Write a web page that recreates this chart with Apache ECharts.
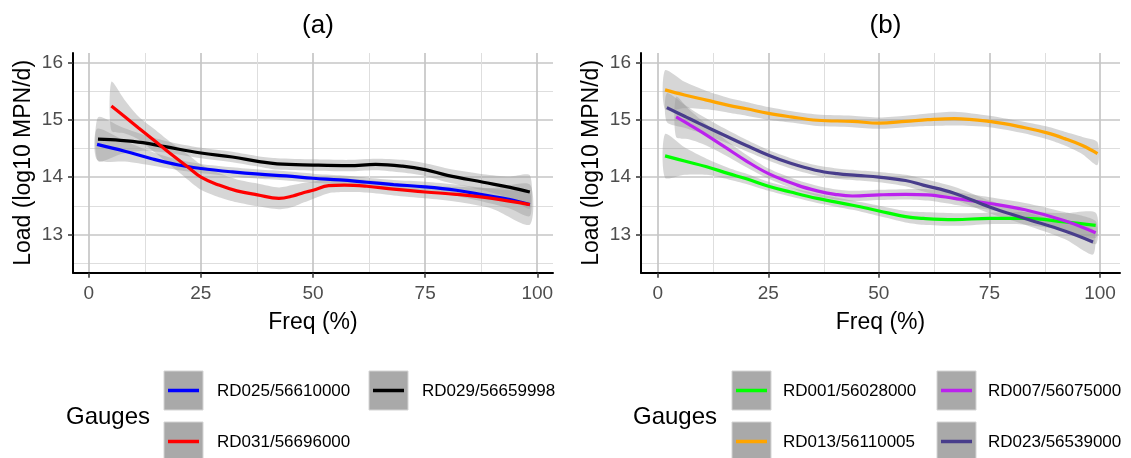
<!DOCTYPE html>
<html>
<head>
<meta charset="utf-8">
<script src="https://cdn.jsdelivr.net/npm/echarts@6/dist/echarts.min.js"></script>
<style>html,body{margin:0;padding:0;background:#fff;}#c{width:1131px;height:458px;}#err{position:absolute;left:0;top:0;font:11px monospace;color:#c00;white-space:pre;}</style>
</head>
<body>
<div id="c"></div>
<div id="err"></div>
<script>
// ---------- tick labels ----------
const xTicks = [0, 25, 50, 75, 100];
const xMinor = [12.5, 37.5, 62.5, 87.5];
const yTicks = [13, 14, 15, 16];
const yMinor = [12.5, 13.5, 14.5, 15.5];
const panelTitles = ['(a)', '(b)'];

// ---------- panel (a) ----------
const rd025_x  = [1.8, 8, 14, 20, 25, 32, 38, 44, 50, 56, 62, 68, 75, 82, 88, 94, 98.4];
const rd025_y  = [14.57, 14.45, 14.32, 14.21, 14.15, 14.09, 14.05, 14.02, 13.98, 13.95, 13.91, 13.87, 13.83, 13.77, 13.69, 13.61, 13.52];
const rd025_lo = [14.30, 14.27, 14.20, 14.12, 14.07, 14.01, 13.97, 13.94, 13.90, 13.87, 13.83, 13.79, 13.74, 13.67, 13.57, 13.45, 13.32];
const rd025_hi = [14.84, 14.63, 14.44, 14.30, 14.23, 14.17, 14.13, 14.10, 14.06, 14.03, 13.99, 13.95, 13.92, 13.87, 13.81, 13.77, 13.72];

const rd029_x  = [2, 7, 12, 17, 25, 32, 38, 42, 50, 58, 64, 70, 75, 80, 88, 94, 98.4];
const rd029_y  = [14.66, 14.64, 14.60, 14.53, 14.42, 14.35, 14.27, 14.23, 14.21, 14.20, 14.22, 14.19, 14.13, 14.03, 13.91, 13.82, 13.74];
const rd029_lo = [14.28, 14.40, 14.46, 14.43, 14.33, 14.26, 14.18, 14.13, 14.11, 14.10, 14.12, 14.08, 14.02, 13.91, 13.77, 13.63, 13.45];
const rd029_hi = [15.04, 14.88, 14.74, 14.63, 14.51, 14.44, 14.36, 14.33, 14.31, 14.30, 14.32, 14.30, 14.24, 14.15, 14.05, 14.01, 14.03];

const rd031_x  = [5, 8, 11, 14.5, 18, 22, 25, 29, 33, 37.6, 42.4, 45.5, 48, 50, 53.5, 57, 62, 68, 75, 82, 90, 98.4];
const rd031_y  = [15.24, 15.05, 14.86, 14.64, 14.42, 14.18, 14.00, 13.86, 13.76, 13.69, 13.63, 13.67, 13.73, 13.77, 13.85, 13.86, 13.84, 13.79, 13.74, 13.70, 13.63, 13.52];
const rd031_lo = [14.81, 14.76, 14.66, 14.44, 14.22, 13.96, 13.78, 13.65, 13.56, 13.49, 13.44, 13.48, 13.56, 13.62, 13.72, 13.74, 13.73, 13.68, 13.63, 13.57, 13.45, 13.17];
const rd031_hi = [15.66, 15.34, 15.06, 14.84, 14.62, 14.40, 14.22, 14.07, 13.96, 13.89, 13.82, 13.86, 13.90, 13.92, 13.98, 13.98, 13.95, 13.90, 13.85, 13.83, 13.81, 13.87];

// ---------- panel (b) ----------
const rd001_x  = [1.6, 6, 11, 16, 20, 25, 30, 36, 44, 50, 56, 60, 67, 75, 83, 92, 99];
const rd001_y  = [14.37, 14.28, 14.18, 14.06, 13.97, 13.84, 13.74, 13.63, 13.51, 13.41, 13.31, 13.28, 13.26, 13.28, 13.28, 13.22, 13.16];
const rd001_lo = [13.99, 14.04, 14.04, 13.96, 13.88, 13.76, 13.66, 13.55, 13.43, 13.32, 13.21, 13.17, 13.15, 13.18, 13.17, 13.07, 12.94];
const rd001_hi = [14.75, 14.52, 14.32, 14.16, 14.06, 13.92, 13.82, 13.71, 13.59, 13.50, 13.41, 13.39, 13.37, 13.38, 13.39, 13.37, 13.38];

const rd007_x  = [4.1, 7, 10, 15, 20, 25, 31.5, 36, 40, 44, 50, 56, 61, 67, 75, 83, 92, 99];
const rd007_y  = [15.05, 14.92, 14.78, 14.53, 14.28, 14.06, 13.86, 13.76, 13.70, 13.67, 13.69, 13.70, 13.69, 13.63, 13.54, 13.43, 13.24, 13.03];
const rd007_lo = [14.70, 14.66, 14.58, 14.39, 14.17, 13.97, 13.77, 13.67, 13.61, 13.58, 13.60, 13.61, 13.59, 13.52, 13.43, 13.31, 13.09, 12.83];
const rd007_hi = [15.40, 15.18, 14.98, 14.67, 14.39, 14.15, 13.95, 13.85, 13.79, 13.76, 13.78, 13.79, 13.79, 13.74, 13.65, 13.55, 13.39, 13.23];

const rd013_x  = [1.6, 6, 11, 16, 20, 25, 30, 36, 44, 50, 56, 61, 67, 75, 83, 88, 92, 96, 99.4];
const rd013_y  = [15.52, 15.43, 15.34, 15.25, 15.19, 15.11, 15.05, 14.99, 14.97, 14.94, 14.97, 15.00, 15.02, 14.97, 14.86, 14.77, 14.67, 14.55, 14.41];
const rd013_lo = [15.18, 15.20, 15.18, 15.12, 15.07, 15.00, 14.95, 14.89, 14.87, 14.84, 14.87, 14.89, 14.90, 14.87, 14.76, 14.66, 14.55, 14.40, 14.21];
const rd013_hi = [15.86, 15.66, 15.50, 15.38, 15.31, 15.22, 15.15, 15.09, 15.07, 15.04, 15.07, 15.11, 15.14, 15.07, 14.96, 14.88, 14.79, 14.70, 14.61];

const rd023_x  = [2, 6, 9.2, 15, 20, 25, 30, 35.6, 40.5, 45, 50, 56, 60, 67, 75, 83, 92, 98.4];
const rd023_y  = [15.21, 15.06, 14.94, 14.73, 14.55, 14.38, 14.24, 14.12, 14.06, 14.03, 14.00, 13.94, 13.86, 13.72, 13.48, 13.28, 13.06, 12.87];
const rd023_lo = [14.96, 14.86, 14.78, 14.61, 14.45, 14.29, 14.15, 14.03, 13.97, 13.94, 13.91, 13.84, 13.75, 13.61, 13.37, 13.17, 12.92, 12.65];
const rd023_hi = [15.46, 15.26, 15.10, 14.85, 14.65, 14.47, 14.33, 14.21, 14.15, 14.12, 14.09, 14.04, 13.97, 13.83, 13.59, 13.39, 13.20, 13.09];

const gaugesA = [
  {name: 'RD025/56610000', color: '#0000ff', x: rd025_x, y: rd025_y, lo: rd025_lo, hi: rd025_hi},
  {name: 'RD029/56659998', color: '#000000', x: rd029_x, y: rd029_y, lo: rd029_lo, hi: rd029_hi},
  {name: 'RD031/56696000', color: '#ff0000', x: rd031_x, y: rd031_y, lo: rd031_lo, hi: rd031_hi}
];
const gaugesB = [
  {name: 'RD001/56028000', color: '#00ff00', x: rd001_x, y: rd001_y, lo: rd001_lo, hi: rd001_hi},
  {name: 'RD007/56075000', color: '#bb22ee', x: rd007_x, y: rd007_y, lo: rd007_lo, hi: rd007_hi},
  {name: 'RD013/56110005', color: '#ffa500', x: rd013_x, y: rd013_y, lo: rd013_lo, hi: rd013_hi},
  {name: 'RD023/56539000', color: '#483d8b', x: rd023_x, y: rd023_y, lo: rd023_lo, hi: rd023_hi}
];

// ---------- layout ----------
const FONT = 'Liberation Sans, Arial, sans-serif';
const panels = [
  {frame: {left: 73, top: 53, width: 480, height: 219.7}, xmin: -3.57, xmax: 103.57,
   lab: {left: 88.7, width: 448.6}},
  {frame: {left: 641, top: 53, width: 479, height: 219.7}, xmin: -3.84, xmax: 104.5,
   lab: {left: 657.7, width: 442.3}}
];
const YMIN = 12.334, YMAX = 16.162;
const LAB_TOP = 62.3, LAB_H = 172.2;

const gridList = [], xAxes = [], yAxes = [], series = [], titles = [];
panels.forEach((p, pi) => {
  const fg = gridList.length;
  gridList.push({left: p.frame.left, top: p.frame.top, width: p.frame.width, height: p.frame.height});
  const lg = gridList.length;
  gridList.push({left: p.lab.left, top: LAB_TOP, width: p.lab.width, height: LAB_H});

  xAxes.push({type: 'value', gridIndex: fg, min: p.xmin, max: p.xmax, position: 'bottom',
    name: 'Freq (%)', nameLocation: 'middle', nameGap: 38,
    nameTextStyle: {fontSize: 23, color: '#000', fontFamily: FONT},
    axisLine: {show: true, onZero: false, lineStyle: {color: '#000', width: 2}},
    axisTick: {show: false, customValues: xTicks},
    axisLabel: {show: false, customValues: xTicks},
    splitLine: {show: true, lineStyle: {color: '#c6c6c6', width: 1.7}}});
  xAxes.push({type: 'value', gridIndex: fg, min: p.xmin, max: p.xmax, position: 'top',
    axisLine: {show: false}, axisTick: {show: false, customValues: xMinor},
    axisLabel: {show: false, customValues: xMinor},
    splitLine: {show: true, lineStyle: {color: '#dedede', width: 1}}});
  xAxes.push({type: 'value', gridIndex: lg, min: xTicks[0], max: xTicks[xTicks.length - 1], interval: 25,
    position: 'bottom', offset: (p.frame.top + p.frame.height) - (LAB_TOP + LAB_H),
    axisLine: {show: false, onZero: false},
    axisTick: {show: true, length: 5, lineStyle: {color: '#333', width: 1.5}},
    axisLabel: {color: '#4d4d4d', fontSize: 19, margin: 12, fontFamily: FONT},
    splitLine: {show: false}});

  yAxes.push({type: 'value', gridIndex: fg, min: YMIN, max: YMAX, position: 'left',
    name: 'Load (log10 MPN/d)', nameLocation: 'middle', nameGap: 38,
    nameTextStyle: {fontSize: 23, color: '#000', fontFamily: FONT},
    axisLine: {show: true, onZero: false, lineStyle: {color: '#000', width: 2}},
    axisTick: {show: false, customValues: yTicks},
    axisLabel: {show: false, customValues: yTicks},
    splitLine: {show: true, lineStyle: {color: '#c6c6c6', width: 1.7}}});
  yAxes.push({type: 'value', gridIndex: fg, min: YMIN, max: YMAX, position: 'right',
    axisLine: {show: false}, axisTick: {show: false, customValues: yMinor},
    axisLabel: {show: false, customValues: yMinor},
    splitLine: {show: true, lineStyle: {color: '#dedede', width: 1}}});
  yAxes.push({type: 'value', gridIndex: lg, min: yTicks[0], max: yTicks[yTicks.length - 1], interval: 1,
    position: 'left', offset: p.lab.left - p.frame.left,
    axisLine: {show: false, onZero: false},
    axisTick: {show: true, length: 5, lineStyle: {color: '#333', width: 1.5}},
    axisLabel: {color: '#4d4d4d', fontSize: 19, margin: 10, fontFamily: FONT},
    splitLine: {show: false}});

  titles.push({text: panelTitles[pi], left: p.frame.left + p.frame.width / 2, top: 8, textAlign: 'center',
    textStyle: {fontSize: 26, fontWeight: 'normal', color: '#000', fontFamily: FONT}});
});

function addPanel(gauges, pi) {
  const xi = pi * 3, yi = pi * 3;
  gauges.forEach(gd => {
    series.push({
      type: 'custom', name: gd.name + ' band', xAxisIndex: xi, yAxisIndex: yi,
      silent: true, z: 2, data: [[gd.x[0], gd.y[0]]],
      renderItem: function (params, api) {
        const up = gd.x.map((x, i) => api.coord([x, gd.hi[i]]));
        const dn = gd.x.map((x, i) => api.coord([x, gd.lo[i]])).reverse();
        return {
          type: 'polygon',
          shape: {points: up.concat(dn), smooth: 0.25},
          style: {fill: 'rgba(153,153,153,0.4)', stroke: null}
        };
      }
    });
  });
  gauges.forEach(gd => {
    series.push({
      type: 'line', name: gd.name, xAxisIndex: xi, yAxisIndex: yi,
      data: gd.x.map((x, i) => [x, gd.y[i]]),
      smooth: 0.4, symbol: 'none', silent: true, z: 4,
      lineStyle: {color: gd.color, width: 3.2}, itemStyle: {color: gd.color}
    });
  });
}
addPanel(gaugesA, 0);
addPanel(gaugesB, 1);

// ---------- legends (drawn as graphic keys) ----------
const legendA = {titleX: 66, cols: [164, 369], labelOff: 53, items: gaugesA};
const legendB = {titleX: 633, cols: [732, 937], labelOff: 51, items: gaugesB};
const rowsY = [371, 422];
const graphics = [];
[legendA, legendB].forEach(L => {
  graphics.push({type: 'text', x: L.titleX, y: 417,
    style: {text: 'Gauges', fontSize: 24, fill: '#000', fontFamily: FONT, verticalAlign: 'middle'}});
  L.items.forEach((gd, k) => {
    const col = k % 2, row = Math.floor(k / 2);
    const kx = L.cols[col], ky = rowsY[row];
    graphics.push({type: 'rect', shape: {x: kx, y: ky, width: 39, height: 39},
      style: {fill: '#a9a9a9', stroke: '#d4d4d4', lineWidth: 1}});
    graphics.push({type: 'line', shape: {x1: kx + 4, y1: ky + 19.5, x2: kx + 35, y2: ky + 19.5},
      style: {stroke: gd.color, lineWidth: 3.5}});
    graphics.push({type: 'text', x: kx + L.labelOff, y: ky + 20,
      style: {text: gd.name, fontSize: 17, fill: '#000', fontFamily: FONT, verticalAlign: 'middle'}});
  });
});

const chart = echarts.init(document.getElementById('c'), null, {renderer: 'canvas'});
window.addEventListener('error', function (ev) {
  const el = document.getElementById('err');
  el.textContent += '\n' + String(ev.error && ev.error.stack || ev.message).slice(0, 1500);
});
try {
  chart.setOption({
    backgroundColor: '#fff',
    animation: false,
    title: titles,
    grid: gridList,
    xAxis: xAxes,
    yAxis: yAxes,
    series: series,
    graphic: graphics
  });
} catch (e) {
  document.getElementById('err').textContent = String(e && e.stack || e).slice(0, 1500);
}
</script>
</body>
</html>
